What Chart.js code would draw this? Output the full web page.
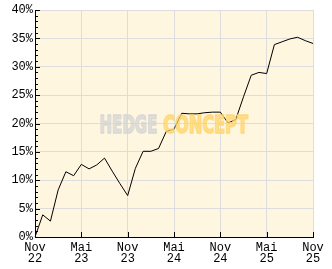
<!DOCTYPE html>
<html>
<head>
<meta charset="utf-8">
<script src="https://cdn.jsdelivr.net/npm/chart.js@4/dist/chart.umd.min.js"></script>
<style>
html,body{margin:0;padding:0;background:#fff;}
canvas{display:block;}
</style>
</head>
<body>
<canvas id="c" width="332" height="269"></canvas>
<script>
// Monthly categories Nov 2022 .. Nov 2025
const months = ['Nov 22','Dez 22','Jan 23','Feb 23','Mär 23','Apr 23','Mai 23','Jun 23','Jul 23','Aug 23','Sep 23','Okt 23',
  'Nov 23','Dez 23','Jan 24','Feb 24','Mär 24','Apr 24','Mai 24','Jun 24','Jul 24','Aug 24','Sep 24','Okt 24',
  'Nov 24','Dez 24','Jan 25','Feb 25','Mär 25','Apr 25','Mai 25','Jun 25','Jul 25','Aug 25','Sep 25','Okt 25','Nov 25'];
// Cumulative performance in %
const performance = [0, 3.9, 2.8, 8.3, 11.5, 10.8, 12.8, 12.0, 12.7, 13.9, 11.6, 9.4,
  7.3, 12.1, 15.1, 15.1, 15.6, 18.6, 19.0, 21.8, 21.7, 21.7, 21.9, 22.0,
  22.0, 20.1, 20.7, 24.7, 28.5, 29.0, 28.8, 33.9, 34.4, 34.9, 35.2, 34.6, 34.1];
// Axis tick labels
const xTickLabels = [['Nov','22'],['Mai','23'],['Nov','23'],['Mai','24'],['Nov','24'],['Mai','25'],['Nov','25']];
const yTicks = [0,5,10,15,20,25,30,35,40];
const watermark = ['HEDGE','CONCEPT'];

const tickFont = {family:'Liberation Mono', size:12, lineHeight:0.95};

const decor = {
  id:'decor',
  beforeDraw(chart){
    const {ctx, chartArea:a} = chart;
    ctx.save();
    ctx.fillStyle = '#FFF6DF';
    ctx.fillRect(a.left, a.top, a.right-a.left, a.bottom-a.top);
    ctx.restore();
  },
  afterDraw(chart){
    const {ctx, chartArea:a, scales} = chart;
    const y = scales.y, x = scales.x;
    ctx.save();
    ctx.strokeStyle = '#000';
    ctx.lineWidth = 1;
    ctx.beginPath();
    for(let v=0; v<=40; v++){
      const py = Math.round(y.getPixelForValue(v)) + 0.5;
      const len = (v%5===0) ? 5 : 3;
      ctx.moveTo(a.left, py); ctx.lineTo(a.left+len, py);
    }
    for(let i=0;i<months.length;i+=6){
      const px = Math.round(x.getPixelForValue(i)) + 0.5;
      ctx.moveTo(px, a.bottom); ctx.lineTo(px, a.bottom-5);
    }
    ctx.stroke();
    // watermark
    ctx.globalAlpha = 0.7;
    ctx.font = 'bold 25px "DejaVu Sans"';
    ctx.textBaseline = 'alphabetic';
    const drawFit = (txt, x0, w, base, color) => {
      const m = ctx.measureText(txt).width;
      ctx.save();
      ctx.translate(x0, base);
      ctx.scale(w/m, 1);
      ctx.fillStyle = color;
      ctx.strokeStyle = color;
      ctx.lineWidth = 2;
      ctx.lineJoin = 'round';
      ctx.strokeText(txt, 0, 0);
      ctx.fillText(txt, 0, 0);
      ctx.restore();
    };
    drawFit(watermark[0], 99.5, 58, 133, '#d4d4d4');
    drawFit(watermark[1], 163, 85, 133, '#ffd469');
    ctx.restore();
  }
};

new Chart(document.getElementById('c'), {
  type:'line',
  data:{
    labels: months,
    datasets:[{
      data: performance,
      borderColor:'#000',
      borderWidth:1,
      pointRadius:0,
      tension:0,
      fill:false
    }]
  },
  options:{
    responsive:false,
    devicePixelRatio:1,
    animation:false,
    layout:{padding:{top:10,right:19,left:0,bottom:0}},
    plugins:{legend:{display:false}, tooltip:{enabled:false}},
    scales:{
      x:{
        type:'category',
        offset:false,
        grid:{
          color: c => (c.index % 6 === 0) ? '#dddddd' : 'rgba(0,0,0,0)',
          drawTicks:false,
          lineWidth:1
        },
        border:{color:'#000', width:1},
        ticks:{
          autoSkip:false, maxRotation:0, minRotation:0,
          padding:5,
          color:'#000',
          font:tickFont,
          callback:(v,i) => (i % 6 === 0) ? xTickLabels[i/6] : ''
        },
        afterFit: s => { s.height = 32; }
      },
      y:{
        min:0, max:40,
        afterBuildTicks: s => { s.ticks = yTicks.map(v => ({value:v})); },
        grid:{color:'#dddddd', drawTicks:false, lineWidth:1},
        border:{color:'#000', width:1},
        ticks:{
          padding:2,
          color:'#000',
          font:tickFont,
          callback: v => v + '%'
        },
        afterFit: s => { s.width = 35; }
      }
    }
  },
  plugins:[decor]
});
</script>
</body>
</html>
